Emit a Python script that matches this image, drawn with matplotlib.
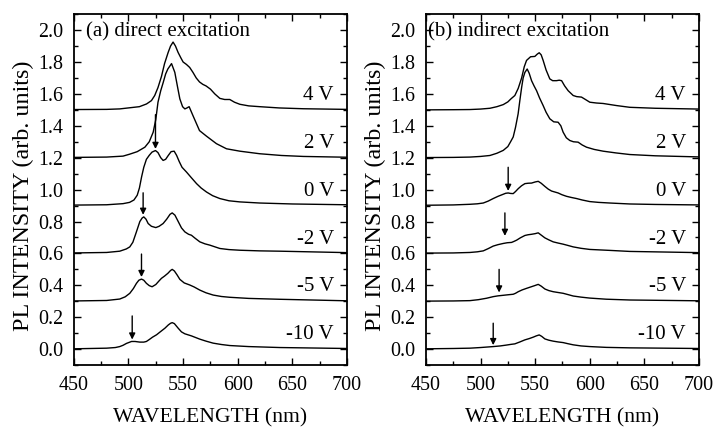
import matplotlib
matplotlib.use("Agg")
import matplotlib.pyplot as plt
from matplotlib.ticker import MultipleLocator, FormatStrFormatter

plt.rcParams['font.family'] = ['Liberation Serif', 'DejaVu Serif']

# ---------------- data: panel (a) direct excitation ----------------
a_4V_wl = [450, 480, 492, 501, 510, 516.5, 521, 524, 527, 530.2, 533, 536.3, 538.5, 540.8, 543, 545.4, 548, 550, 553, 556, 559, 562, 565, 568, 571, 575, 579, 583.6, 588, 592.7, 597, 601.9, 610, 620, 638, 660, 700]
a_4V_I = [1.502, 1.503, 1.506, 1.513, 1.52, 1.537, 1.558, 1.59, 1.64, 1.71, 1.79, 1.86, 1.90, 1.925, 1.90, 1.86, 1.825, 1.80, 1.785, 1.766, 1.735, 1.70, 1.675, 1.66, 1.65, 1.63, 1.60, 1.572, 1.565, 1.565, 1.548, 1.535, 1.525, 1.52, 1.512, 1.507, 1.503]

a_2V_wl = [450, 480, 495, 501, 508, 515, 519, 522.6, 525, 527, 529.5, 531.7, 534, 536, 539.4, 542.4, 545, 547, 549.5, 551.6, 553.5, 555.5, 559, 565, 571.4, 580.5, 589.7, 601.9, 620, 640, 660, 700]
a_2V_I = [1.202, 1.204, 1.210, 1.222, 1.238, 1.266, 1.30, 1.36, 1.44, 1.548, 1.62, 1.67, 1.725, 1.756, 1.79, 1.735, 1.64, 1.569, 1.52, 1.506, 1.512, 1.52, 1.464, 1.37, 1.335, 1.288, 1.256, 1.241, 1.225, 1.214, 1.208, 1.203]

a_0V_wl = [450, 480, 495, 501, 505, 508, 510, 512, 514, 516.4, 519, 521.5, 524.7, 527, 529.5, 531.7, 534, 536.5, 539, 541.8, 544, 546.5, 549, 553.1, 557.5, 562.3, 566.5, 571.4, 577, 583.6, 592, 601.9, 620, 650, 700]
a_0V_I = [0.903, 0.905, 0.912, 0.92, 0.935, 0.965, 1.01, 1.08, 1.14, 1.19, 1.215, 1.235, 1.245, 1.232, 1.20, 1.183, 1.19, 1.215, 1.238, 1.241, 1.215, 1.175, 1.14, 1.11, 1.075, 1.0375, 1.01, 0.985, 0.962, 0.944, 0.93, 0.923, 0.916, 0.91, 0.905]

a_m2V_wl = [450, 480, 492, 498, 501.2, 504, 507, 510.4, 512.5, 514, 516, 518, 521, 525, 528, 531.7, 535, 538, 540, 542.5, 545.5, 548.5, 551.6, 555, 557.6, 561, 565.3, 570, 574.4, 583.6, 592, 601.9, 620, 638.5, 700]
a_m2V_I = [0.603, 0.606, 0.614, 0.628, 0.641, 0.67, 0.73, 0.80, 0.822, 0.829, 0.815, 0.7875, 0.77, 0.762, 0.77, 0.7875, 0.815, 0.845, 0.854, 0.84, 0.80, 0.76, 0.735, 0.72, 0.714, 0.695, 0.6725, 0.66, 0.652, 0.631, 0.624, 0.62, 0.616, 0.614, 0.605]

a_m5V_wl = [450, 480, 492, 497, 501.2, 504.5, 507.3, 509.5, 511.9, 514, 516.4, 519, 521.6, 525, 528, 530.2, 533, 536, 538.5, 540, 542, 544.5, 547, 551, 556.1, 560, 565.3, 571, 577.5, 585, 592.7, 610, 638.5, 700]
a_m5V_I = [0.302, 0.305, 0.314, 0.328, 0.35, 0.38, 0.4125, 0.432, 0.439, 0.432, 0.4125, 0.398, 0.391, 0.405, 0.428, 0.444, 0.458, 0.475, 0.493, 0.50, 0.49, 0.465, 0.4375, 0.415, 0.402, 0.39, 0.37, 0.353, 0.339, 0.33, 0.325, 0.318, 0.3125, 0.303]

a_m10V_wl = [450, 480, 488, 492, 495, 498.2, 502.8, 506, 510.4, 514, 516.4, 519, 522, 525.7, 529, 533.3, 536.5, 538.5, 540, 542, 545.5, 548.5, 551.6, 557.6, 565.3, 571, 577.5, 585, 592.7, 610, 638.5, 700]
a_m10V_I = [0.002, 0.006, 0.01, 0.016, 0.024, 0.036, 0.048, 0.048, 0.044, 0.044, 0.048, 0.06, 0.075, 0.09, 0.108, 0.131, 0.152, 0.162, 0.166, 0.16, 0.131, 0.108, 0.096, 0.083, 0.0625, 0.05, 0.0375, 0.029, 0.0225, 0.016, 0.01, 0.004]

# ---------------- data: panel (b) indirect excitation ----------------
b_4V_wl = [450, 475, 490.3, 500, 508.6, 515, 520.8, 525, 528, 531.4, 534.5, 537.6, 540, 542.1, 545.8, 549.7, 552, 553.7, 555.5, 557.3, 560, 563.4, 566, 569.5, 572, 574.2, 577, 580.2, 584.8, 588, 592.4, 596, 600, 606, 612.2, 624.4, 636.6, 660, 700]
b_4V_I = [1.500, 1.501, 1.502, 1.505, 1.51, 1.52, 1.533, 1.55, 1.57, 1.59, 1.635, 1.70, 1.77, 1.81, 1.833, 1.835, 1.85, 1.858, 1.845, 1.81, 1.75, 1.694, 1.683, 1.683, 1.686, 1.683, 1.65, 1.62, 1.59, 1.583, 1.58, 1.565, 1.548, 1.543, 1.54, 1.527, 1.516, 1.51, 1.505]

b_2V_wl = [450, 475, 490.3, 500, 508.6, 515, 520.8, 525, 527.5, 529.9, 532, 534.4, 536, 537.6, 539, 540.6, 542.7, 544.5, 546.7, 549, 551.3, 554, 557.3, 560, 563.4, 567, 571, 573.5, 575.6, 578.5, 581.7, 585, 589.3, 593, 597, 604, 612.2, 624, 636.6, 660, 700]
b_2V_I = [1.201, 1.202, 1.204, 1.208, 1.214, 1.228, 1.246, 1.27, 1.30, 1.33, 1.39, 1.475, 1.56, 1.64, 1.70, 1.735, 1.756, 1.73, 1.683, 1.65, 1.62, 1.575, 1.527, 1.485, 1.444, 1.425, 1.4225, 1.40, 1.36, 1.325, 1.308, 1.30, 1.2975, 1.28, 1.266, 1.252, 1.241, 1.23, 1.22, 1.212, 1.205]

b_0V_wl = [450, 475, 490.3, 497, 502.5, 507, 511.6, 516, 520.8, 523, 525.3, 527.5, 529.9, 532, 534.5, 537.5, 540.6, 543.5, 546.7, 550, 552.8, 555.5, 558.9, 562, 565, 568, 571, 574.5, 578.7, 583, 587.9, 593, 600, 608, 618.3, 636.6, 660, 700]
b_0V_I = [0.902, 0.904, 0.908, 0.911, 0.916, 0.928, 0.944, 0.958, 0.971, 0.977, 0.979, 0.976, 0.975, 0.988, 1.006, 1.024, 1.0375, 1.04, 1.041, 1.048, 1.052, 1.04, 1.02, 1.003, 0.991, 0.985, 0.979, 0.968, 0.958, 0.951, 0.944, 0.935, 0.925, 0.92, 0.916, 0.91, 0.907, 0.904]

b_m2V_wl = [450, 475, 490.3, 497, 502.5, 507, 511.6, 516, 520.8, 524.5, 528.4, 530.5, 533, 536.5, 540.6, 543.5, 546.7, 550, 552.8, 555.5, 558.9, 562.5, 566.5, 571, 575.6, 580, 584.8, 592, 600, 618.3, 636.6, 700]
b_m2V_I = [0.602, 0.603, 0.606, 0.61, 0.616, 0.63, 0.646, 0.655, 0.6625, 0.667, 0.669, 0.675, 0.683, 0.698, 0.7125, 0.717, 0.72, 0.724, 0.729, 0.715, 0.6975, 0.685, 0.6725, 0.665, 0.658, 0.65, 0.641, 0.632, 0.625, 0.619, 0.6125, 0.605]

b_m5V_wl = [450, 475, 490.3, 498, 505.5, 511.6, 516, 520.8, 525.5, 529.9, 532, 534.5, 538, 542.1, 546, 549.5, 552.8, 555.5, 558.9, 562.5, 566.5, 571, 575.6, 580, 584.8, 592, 600, 615, 636.6, 700]
b_m5V_I = [0.301, 0.302, 0.304, 0.31, 0.319, 0.329, 0.334, 0.3375, 0.341, 0.344, 0.35, 0.36, 0.371, 0.381, 0.39, 0.398, 0.406, 0.395, 0.377, 0.367, 0.36, 0.355, 0.35, 0.342, 0.333, 0.326, 0.32, 0.313, 0.308, 0.303]

b_m10V_wl = [450, 475, 490.3, 500, 511.6, 518, 523.3, 528, 531.4, 536, 540.6, 544.5, 548.2, 551, 553.7, 556, 558.9, 562.5, 566.5, 571, 575.6, 580, 584.8, 592, 600, 615, 636.6, 700]
b_m10V_I = [0.002, 0.004, 0.006, 0.01, 0.016, 0.02, 0.025, 0.03, 0.033, 0.045, 0.058, 0.066, 0.075, 0.083, 0.089, 0.08, 0.064, 0.056, 0.05, 0.045, 0.041, 0.034, 0.027, 0.02, 0.016, 0.011, 0.008, 0.004]

voltage_labels = ['4 V', '2 V', '0 V', '-2 V', '-5 V', '-10 V']
offsets = [1.5, 1.2, 0.9, 0.6, 0.3, 0.0]

# arrows: wavelength, start (top) and tip (bottom) intensities
a_arrow_wl = [524.7, 513.4, 511.9, 503.4]
a_arrow_top = [1.47, 0.98, 0.596, 0.208]
a_arrow_tip = [1.255, 0.842, 0.452, 0.060]

b_arrow_wl = [525.3, 522.3, 517.0, 511.6]
b_arrow_top = [1.14, 0.854, 0.50, 0.1625]
b_arrow_tip = [0.992, 0.71, 0.355, 0.025]

panels = [
    dict(title='(a) direct excitation', title_x=461.5,
         curves=[(a_4V_wl, a_4V_I), (a_2V_wl, a_2V_I), (a_0V_wl, a_0V_I),
                 (a_m2V_wl, a_m2V_I), (a_m5V_wl, a_m5V_I), (a_m10V_wl, a_m10V_I)],
         arrows=(a_arrow_wl, a_arrow_top, a_arrow_tip)),
    dict(title='(b) indirect excitation', title_x=452.0,
         curves=[(b_4V_wl, b_4V_I), (b_2V_wl, b_2V_I), (b_0V_wl, b_0V_I),
                 (b_m2V_wl, b_m2V_I), (b_m5V_wl, b_m5V_I), (b_m10V_wl, b_m10V_I)],
         arrows=(b_arrow_wl, b_arrow_top, b_arrow_tip)),
]

fig = plt.figure(figsize=(7.17, 4.29), dpi=100)
lefts = [0.103, 0.594]
FS = 15
TFS = 14.4

for left, p in zip(lefts, panels):
    ax = fig.add_axes([left, 0.149, 0.381, 0.818])
    for (wl, I) in p['curves']:
        ax.plot(wl, I, color='black', lw=1.0)
    for lab, off in zip(voltage_labels, offsets):
        ax.text(688, off + 0.09, lab, ha='right', va='center', fontsize=FS)
    ax.text(p['title_x'], 1.99, p['title'], ha='left', va='center', fontsize=FS)
    for x, y0, y1 in zip(*p['arrows']):
        ax.annotate('', xy=(x, y1), xytext=(x, y0),
                    arrowprops=dict(arrowstyle='-|>', color='black', lw=1.0,
                                    mutation_scale=9, shrinkA=0, shrinkB=0))
    ax.set_xlim(450, 700)
    ax.set_ylim(-0.1, 2.1)
    ax.xaxis.set_major_locator(MultipleLocator(50))
    ax.xaxis.set_minor_locator(MultipleLocator(25))
    ax.yaxis.set_major_locator(MultipleLocator(0.2))
    ax.yaxis.set_minor_locator(MultipleLocator(0.1))
    ax.yaxis.set_major_formatter(FormatStrFormatter('%.1f'))
    ax.tick_params(which='both', direction='in', top=True, right=True, labelsize=TFS)
    ax.tick_params(which='major', length=5, width=1.0)
    ax.tick_params(which='minor', length=3, width=1.0)
    ax.tick_params(axis='x', pad=8)
    ax.tick_params(axis='y', pad=7.7)
    for s in ax.spines.values():
        s.set_linewidth(1.3)
    ax.set_xlabel('WAVELENGTH (nm)', fontsize=15.6)
    ax.set_ylabel('PL INTENSITY (arb. units)', fontsize=17.4)
    ax.xaxis.set_label_coords(0.5, -0.123)
    ax.yaxis.set_label_coords(-0.145, 0.481)

fig.savefig('out.png', dpi=100)
